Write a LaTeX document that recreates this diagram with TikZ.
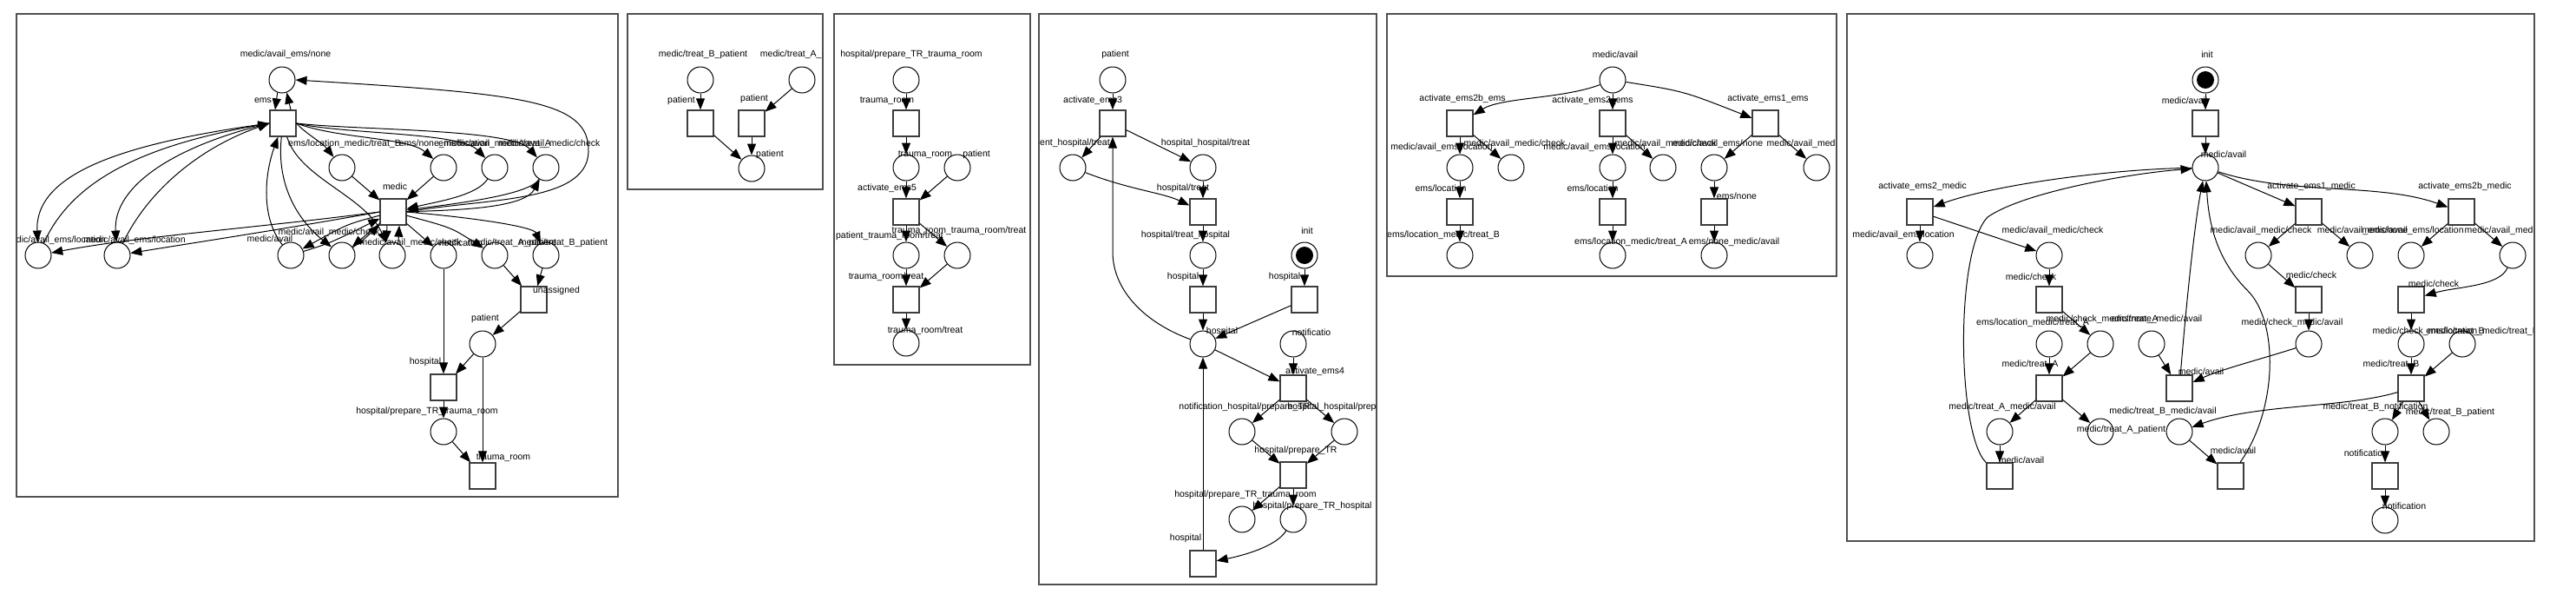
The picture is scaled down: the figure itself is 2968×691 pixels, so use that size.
\documentclass[tikz,border=0pt]{standalone}
\usepackage{fontspec}
\setmainfont{Liberation Sans}
\usetikzlibrary{arrows.meta}
\definecolor{panelgray}{RGB}{80,80,80}
\definecolor{transgray}{RGB}{60,60,60}
\tikzset{
  place/.style={circle,draw,line width=1pt,minimum size=30pt,inner sep=0pt},
  trans/.style={rectangle,draw=transgray,line width=1.3pt,minimum size=30pt,inner sep=0pt},
  lbl/.style={inner sep=0pt},
  arc/.style={-{Triangle[length=13pt,width=10pt]},line width=1pt},
  panel/.style={draw=panelgray,line width=2.5pt}
}
\begin{document}
\begin{tikzpicture}[x=1pt,y=-1pt,font=\fontsize{10.5}{12}\selectfont]
\useasboundingbox (0,0) rectangle (2968,691);

% ---------- panel 1: ems and medic
\begin{scope}
\clip (19,15) rectangle (712,572);
\foreach \n/\x/\y in {b1none/325/92, b1r1/394/193, b1r2/511/193, b1r3/570/193, b1r4/629/193,
    b1l1/44/294, b1l2/135/294, b1b1/335/294, b1b2/394/294, b1b3/452/294,
    b1b4/511/294, b1b5/570/294, b1b6/629/294, b1pat/556/396, b1prep/511/497}
  \node[place] (\n) at (\x,\y) {};
\foreach \n/\x/\y in {b1ems/326/142, b1med/453/244, b1un/615/345, b1hosp/511/446, b1tr/556/548}
  \node[trans] (\n) at (\x,\y) {};
\foreach \n/\x/\y/\t in {
    lb1none/329/63/{medic/avail\_ems/none},
    lb1ems/303/116/ems,
    lb1r1/397/166/{ems/location\_medic/treat\_B},
    lb1r2/512/166/{ems/none\_medic/avail},
    lb1r3/570/166/{ems/location\_medic/treat\_A},
    lb1r4/633/166/{medic/avail\_medic/check},
    lb1med/455/215/medic,
    lb1l1/63/277/{medic/avail\_ems/location},
    lb1l2/155/277/{medic/avail\_ems/location},
    lb1b1/311/275/{medic/avail},
    lb1b2/379/268/{medic/avail\_medic/check},
    lb1b3/473/280/{medic/avail\_medic/check},
    lb1b4/531/280/notification,
    lb1b5/590/280/{medic/treat\_A\_patient},
    lb1b6/649/280/{medic/treat\_B\_patient},
    lb1un/641/335/unassigned,
    lb1pat/559/367/patient,
    lb1hosp/490/417/hospital,
    lb1prep/492/474/{hospital/prepare\_TR\_trauma\_room},
    lb1tr/580/527/{trauma\_room}}
  \node[lbl] (\n) at (\x,\y) {\t};

% ems and medic/avail_ems/none
\draw[arc] (b1none.250) -- ([xshift=-9pt]b1ems.north);
\draw[arc] ([xshift=9pt]b1ems.north) -- (b1none.290);
% ems to the upper row
\draw[arc] (b1ems.east) .. controls (350,152) and (372,165) .. (b1r1);
\draw[arc] (b1ems.east) .. controls (390,160) and (470,158) .. (b1r2);
\draw[arc] (b1ems.east) .. controls (400,155) and (530,152) .. (b1r3);
\draw[arc] (b1ems.east) .. controls (410,150) and (590,148) .. (b1r4);
% upper row to medic
\draw[arc] (b1r1) -- (b1med);
\draw[arc] (b1r2) -- (b1med);
\draw[arc] (b1r3) .. controls (550,225) and (505,232) .. (b1med);
\draw[arc] (b1r4) .. controls (610,225) and (520,235) .. (b1med);
\draw[arc] (b1med) .. controls (540,242) and (605,238) .. (b1r4);
% medic back up to medic/avail_ems/none
\draw[arc] (b1med.east) .. controls (560,228) and (676,234) .. (678,175)
  .. controls (680,115) and (600,108) .. (b1none.east);
% ems with the medic/avail_ems/location places
\draw[arc] (b1ems.west) .. controls (140,165) and (40,200) .. (b1l1);
\draw[arc] (b1l1) .. controls (80,215) and (150,170) .. (b1ems.west);
\draw[arc] (b1ems.west) .. controls (200,168) and (130,215) .. (b1l2);
\draw[arc] (b1l2) .. controls (170,220) and (230,170) .. (b1ems.west);
\draw[arc] (b1med.west) .. controls (300,262) and (160,272) .. (b1l1);
\draw[arc] (b1med.west) .. controls (320,265) and (220,280) .. (b1l2);
% ems and medic with the lower row
\draw[arc] (b1b1) .. controls (300,250) and (305,200) .. (b1ems);
\draw[arc] (b1ems) .. controls (318,215) and (345,255) .. (b1b2);
\draw[arc] (b1ems) .. controls (345,205) and (420,225) .. (b1b3);
\draw[arc] (b1med) .. controls (400,258) .. (b1b1);
\draw[arc] (b1b1) .. controls (380,280) .. (b1med);
\draw[arc] (b1med) -- (b1b2);
\draw[arc] (b1b2) .. controls (420,275) .. (b1med);
\draw[arc] ([xshift=-7pt]b1med.south) -- ([xshift=-7pt]b1b3.north);
\draw[arc] ([xshift=7pt]b1b3.north) -- ([xshift=7pt]b1med.south);
\draw[arc] (b1med) -- (b1b4);
\draw[arc] (b1med) .. controls (520,262) .. (b1b5);
\draw[arc] (b1med.east) .. controls (560,252) and (615,262) .. (b1b6);
% lower part
\draw[arc] (b1b4) -- (b1hosp);
\draw[arc] (b1b5) -- (b1un);
\draw[arc] (b1b6) -- (b1un);
\draw[arc] (b1un) -- (b1pat);
\draw[arc] (b1pat) -- (b1hosp);
\draw[arc] (b1pat) -- (b1tr);
\draw[arc] (b1hosp) -- (b1prep);
\draw[arc] (b1prep) -- (b1tr);
\end{scope}

% ---------- panel 2: patient
\begin{scope}
\clip (723,15) rectangle (948,218);
\foreach \n/\x/\y in {b2p1/807/92, b2p2/924/92, b2p3/866/194}
  \node[place] (\n) at (\x,\y) {};
\foreach \n/\x/\y in {b2t1/807/142, b2t2/866/142}
  \node[trans] (\n) at (\x,\y) {};
\foreach \n/\x/\y/\t in {
    lb2p1/810/63/{medic/treat\_B\_patient},
    lb2p2/927/63/{medic/treat\_A\_patient},
    lb2t1/785/116/patient,
    lb2t2/869/114/patient,
    lb2p3/887/178/patient}
  \node[lbl] (\n) at (\x,\y) {\t};
\draw[arc] (b2p1) -- (b2t1);
\draw[arc] (b2p2) -- (b2t2);
\draw[arc] (b2t1) -- (b2p3);
\draw[arc] (b2t2) -- (b2p3);
\end{scope}

% ---------- panel 3: trauma room
\begin{scope}
\clip (961,15) rectangle (1187,420);
\foreach \n/\x/\y in {b3a/1044/92, b3b/1044/193, b3c/1103/193, b3d/1044/294, b3e/1103/294, b3f/1044/395}
  \node[place] (\n) at (\x,\y) {};
\foreach \n/\x/\y in {b3t1/1044/142, b3t2/1044/244, b3t3/1044/345}
  \node[trans] (\n) at (\x,\y) {};
\foreach \n/\x/\y/\t in {
    lb3a/1050/63/{hospital/prepare\_TR\_trauma\_room},
    lb3t1/1022/116/{trauma\_room},
    lb3b/1066/178/{trauma\_room},
    lb3c/1125/178/patient,
    lb3t2/1022/217/{activate\_ems5},
    lb3d/1025/272/{patient\_trauma\_room/treat},
    lb3e/1105/266/{trauma\_room\_trauma\_room/treat},
    lb3t3/1021/319/{trauma\_room/treat},
    lb3f/1066/381/{trauma\_room/treat}}
  \node[lbl] (\n) at (\x,\y) {\t};
\draw[arc] (b3a) -- (b3t1);
\draw[arc] (b3t1) -- (b3b);
\draw[arc] (b3b) -- (b3t2);
\draw[arc] (b3c) -- (b3t2);
\draw[arc] (b3t2) -- (b3d);
\draw[arc] (b3t2) -- (b3e);
\draw[arc] (b3d) -- (b3t3);
\draw[arc] (b3e) -- (b3t3);
\draw[arc] (b3t3) -- (b3f);
\end{scope}

% ---------- panel 4: hospital
\begin{scope}
\clip (1197,15) rectangle (1586,673);
\foreach \n/\x/\y in {b4pat/1282/92, b4pht/1236/193, b4hht/1386/193, b4hth/1386/294, b4init/1503/294,
    b4hosp/1386/396, b4notif/1490/396, b4nhp/1431/497, b4hhp/1549/497, b4hptr/1431/598, b4hph/1490/598}
  \node[place] (\n) at (\x,\y) {};
\fill (b4init) circle (10pt);
\foreach \n/\x/\y in {b4act3/1282/142, b4htreat/1386/244, b4th1/1386/345, b4th2/1503/345,
    b4act4/1490/447, b4prep/1490/547, b4th3/1386/649}
  \node[trans] (\n) at (\x,\y) {};
\foreach \n/\x/\y/\t in {
    lb4pat/1285/63/patient,
    lb4act3/1259/116/{activate\_ems3},
    lb4pht/1230/165/{patient\_hospital/treat},
    lb4hht/1389/165/{hospital\_hospital/treat},
    lb4htreat/1363/217/{hospital/treat},
    lb4hth/1366/271/{hospital/treat\_hospital},
    lb4init/1506/266/init,
    lb4th1/1363/319/hospital,
    lb4th2/1480/319/hospital,
    lb4hosp/1408/382/hospital,
    lb4notif/1511/383/notificatio,
    lb4act4/1515/428/{activate\_ems4},
    lb4nhp/1434/469/{notification\_hospital/prepare\_TR},
    lb4hhp/1552/469/{hospital\_hospital/prepare\_TR},
    lb4prep/1493/519/{hospital/prepare\_TR},
    lb4hptr/1435/570/{hospital/prepare\_TR\_trauma\_room},
    lb4hph/1512/583/{hospital/prepare\_TR\_hospital},
    lb4th3/1366/620/hospital}
  \node[lbl] (\n) at (\x,\y) {\t};
\draw[arc] (b4pat) -- (b4act3);
\draw[arc] (b4act3) -- (b4pht);
\draw[arc] (b4act3) -- (b4hht);
\draw[arc] (b4pht) .. controls (1300,218) and (1340,222) .. (b4htreat);
\draw[arc] (b4hht) -- (b4htreat);
\draw[arc] (b4htreat) -- (b4hth);
\draw[arc] (b4hth) -- (b4th1);
\draw[arc] (b4init) -- (b4th2);
\draw[arc] (b4th1) -- (b4hosp);
\draw[arc] (b4th2) -- (b4hosp);
\draw[arc] (b4hosp) .. controls (1320,372) and (1282,335) .. (1282,290) -- (b4act3.south);
\draw[arc] (b4hosp) -- (b4act4);
\draw[arc] (b4notif) -- (b4act4);
\draw[arc] (b4act4) -- (b4nhp);
\draw[arc] (b4act4) -- (b4hhp);
\draw[arc] (b4nhp) -- (b4prep);
\draw[arc] (b4hhp) -- (b4prep);
\draw[arc] (b4prep) -- (b4hptr);
\draw[arc] (b4prep) -- (b4hph);
\draw[arc] (b4hph) .. controls (1470,630) and (1430,640) .. (b4th3);
\draw[arc] (b4th3) -- (b4hosp);
\end{scope}

% ---------- panel 5: ems side
\begin{scope}
\clip (1598,15) rectangle (2116,318);
\foreach \n/\x/\y in {b5avail/1858/92, b5a/1682/193, b5b/1741/193, b5c/1858/193, b5d/1916/193,
    b5e/1975/193, b5f/2093/193, b5g/1682/294, b5h/1858/294, b5i/1975/294}
  \node[place] (\n) at (\x,\y) {};
\foreach \n/\x/\y in {b5t2b/1682/142, b5t2/1858/142, b5t1/2034/142,
    b5loc1/1682/244, b5loc2/1858/244, b5none/1975/244}
  \node[trans] (\n) at (\x,\y) {};
\foreach \n/\x/\y/\t in {
    lb5avail/1861/63/{medic/avail},
    lb5t2b/1685/114/{activate\_ems2b\_ems},
    lb5t2/1835/116/{activate\_ems2\_ems},
    lb5t1/2037/114/{activate\_ems1\_ems},
    lb5a/1661/170/{medic/avail\_ems/location},
    lb5b/1745/166/{medic/avail\_medic/check},
    lb5c/1837/170/{medic/avail\_ems/location},
    lb5d/1919/166/{medic/avail\_medic/check},
    lb5e/1979/166/{medic/avail\_ems/none},
    lb5f/2094/166/{medic/avail\_medic/check},
    lb5loc1/1660/217/{ems/location},
    lb5loc2/1835/217/{ems/location},
    lb5none/2001/226/{ems/none},
    lb5g/1663/271/{ems/location\_medic/treat\_B},
    lb5h/1879/279/{ems/location\_medic/treat\_A},
    lb5i/1998/279/{ems/none\_medic/avail}}
  \node[lbl] (\n) at (\x,\y) {\t};
\draw[arc] (b5avail) .. controls (1800,114) and (1730,112) .. (b5t2b);
\draw[arc] (b5avail) -- (b5t2);
\draw[arc] (b5avail) .. controls (1940,105) .. (b5t1);
\draw[arc] (b5t2b) -- (b5a);
\draw[arc] (b5t2b) -- (b5b);
\draw[arc] (b5t2) -- (b5c);
\draw[arc] (b5t2) -- (b5d);
\draw[arc] (b5t1) -- (b5e);
\draw[arc] (b5t1) -- (b5f);
\draw[arc] (b5a) -- (b5loc1);
\draw[arc] (b5loc1) -- (b5g);
\draw[arc] (b5c) -- (b5loc2);
\draw[arc] (b5loc2) -- (b5h);
\draw[arc] (b5e) -- (b5none);
\draw[arc] (b5none) -- (b5i);
\end{scope}

% ---------- panel 6: medic side
\begin{scope}
\clip (2128,15) rectangle (2920,623);
\foreach \n/\x/\y in {b6init/2541/92, b6avail/2541/193, b6a/2212/294, b6b/2361/294, b6c/2602/294,
    b6d/2719/294, b6e/2778/294, b6f/2895/294, b6g/2361/396, b6h/2420/396, b6i/2479/396,
    b6j/2660/396, b6k/2778/396, b6l/2837/396, b6m/2304/497, b6n/2420/497, b6o/2511/497,
    b6p/2748/497, b6q/2807/497, b6r/2748/599}
  \node[place] (\n) at (\x,\y) {};
\fill (b6init) circle (10pt);
\foreach \n/\x/\y in {b6tav/2541/142, b6act2/2212/244, b6act1/2660/244, b6act2b/2836/244,
    b6chk1/2361/345, b6chk2/2660/345, b6chk3/2778/345, b6trA/2361/447, b6av1/2511/447,
    b6trB/2778/447, b6av2/2304/548, b6av3/2570/548, b6not/2748/548}
  \node[trans] (\n) at (\x,\y) {};
\foreach \n/\x/\y/\t in {
    lb6init/2543/63/init,
    lb6tav/2517/116/{medic/avail},
    lb6avail/2562/178/{medic/avail},
    lb6act2/2215/215/{activate\_ems2\_medic},
    lb6act1/2663/215/{activate\_ems1\_medic},
    lb6act2b/2840/215/{activate\_ems2b\_medic},
    lb6a/2193/271/{medic/avail\_ems/location},
    lb6b/2365/266/{medic/avail\_medic/check},
    lb6c/2605/266/{medic/avail\_medic/check},
    lb6d/2722/266/{medic/avail\_ems/none},
    lb6e/2780/266/{medic/avail\_ems/location},
    lb6f/2898/266/{medic/avail\_medic/check},
    lb6chk1/2340/319/{medic/check},
    lb6chk2/2663/317/{medic/check},
    lb6chk3/2804/327/{medic/check},
    lb6g/2342/372/{ems/location\_medic/treat\_A},
    lb6h/2422/368/{medic/check\_medic/treat\_A},
    lb6i/2485/368/{ems/none\_medic/avail},
    lb6j/2641/372/{medic/check\_medic/avail},
    lb6k/2798/382/{medic/check\_medic/treat\_B},
    lb6l/2860/382/{ems/location\_medic/treat\_B},
    lb6trA/2339/420/{medic/treat\_A},
    lb6av1/2536/428/{medic/avail},
    lb6trB/2755/420/{medic/treat\_B},
    lb6m/2307/469/{medic/treat\_A\_medic/avail},
    lb6n/2444/495/{medic/treat\_A\_patient},
    lb6o/2492/474/{medic/treat\_B\_medic/avail},
    lb6p/2737/469/{medic/treat\_B\_notification},
    lb6q/2823/475/{medic/treat\_B\_patient},
    lb6av2/2329/530/{medic/avail},
    lb6av3/2573/519/{medic/avail},
    lb6not/2723/522/notificatio,
    lb6r/2770/583/notification}
  \node[lbl] (\n) at (\x,\y) {\t};
\draw[arc] (b6init) -- (b6tav);
\draw[arc] (b6tav) -- (b6avail);
\draw[arc] (b6avail) .. controls (2420,195) and (2290,215) .. (b6act2);
\draw[arc] (b6avail) -- (b6act1);
\draw[arc] (b6avail) .. controls (2640,225) and (2740,210) .. (b6act2b);
\draw[arc] (b6act2) -- (b6a);
\draw[arc] (b6act2) -- (b6b);
\draw[arc] (b6b) -- (b6chk1);
\draw[arc] (b6chk1) -- (b6h);
\draw[arc] (b6h) -- (b6trA);
\draw[arc] (b6g) -- (b6trA);
\draw[arc] (b6trA) -- (b6m);
\draw[arc] (b6trA) -- (b6n);
\draw[arc] (b6m) -- (b6av2);
\draw[arc] (b6av2) .. controls (2255,500) and (2252,290) .. (2290,250)
  .. controls (2330,222) and (2450,200) .. (b6avail);
\draw[arc] (b6act1) -- (b6c);
\draw[arc] (b6act1) -- (b6d);
\draw[arc] (b6c) -- (b6chk2);
\draw[arc] (b6chk2) -- (b6j);
\draw[arc] (b6j) .. controls (2600,415) and (2560,425) .. (b6av1);
\draw[arc] (b6i) -- (b6av1);
\draw[arc] (b6av1) .. controls (2518,360) and (2528,260) .. (b6avail);
\draw[arc] (b6av3) .. controls (2625,470) and (2625,370) .. (2590,335)
  .. controls (2555,300) and (2545,260) .. (b6avail);
\draw[arc] (b6o) -- (b6av3);
\draw[arc] (b6act2b) -- (b6e);
\draw[arc] (b6act2b) -- (b6f);
\draw[arc] (b6f) .. controls (2880,330) and (2830,330) .. (b6chk3);
\draw[arc] (b6chk3) -- (b6k);
\draw[arc] (b6k) -- (b6trB);
\draw[arc] (b6l) -- (b6trB);
\draw[arc] (b6trB) -- (b6p);
\draw[arc] (b6trB) -- (b6q);
\draw[arc] (b6trB) .. controls (2700,470) and (2600,465) .. (b6o);
\draw[arc] (b6p) -- (b6not);
\draw[arc] (b6not) -- (b6r);
\end{scope}

% panel frames
\foreach \a/\b/\c/\d in {19/16/712/572, 723/16/948/218, 961/16/1187/420,
    1197/16/1586/673, 1598/16/2116/318, 2128/16/2920/623}
  \draw[panel] (\a,\b) rectangle (\c,\d);
\end{tikzpicture}
\end{document}
